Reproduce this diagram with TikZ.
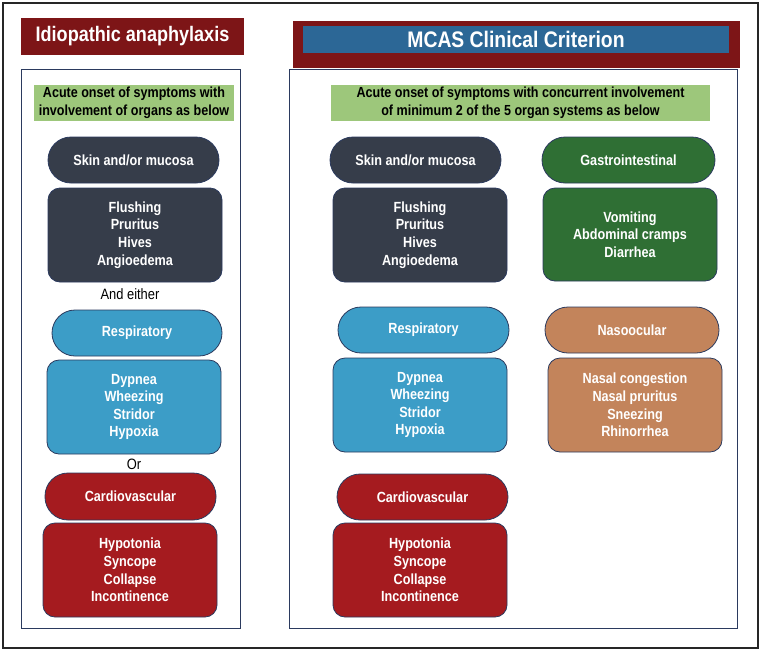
\documentclass[tikz,border=0pt]{standalone}
\usepackage{fontspec}
\setmainfont{Liberation Sans}[FakeStretch=0.86]
\usetikzlibrary{positioning}
\definecolor{darkred}{HTML}{7D1517}
\definecolor{titleblue}{HTML}{2C6796}
\definecolor{slate}{HTML}{363D4A}
\definecolor{resp}{HTML}{3C9DC7}
\definecolor{cardio}{HTML}{A51B1F}
\definecolor{gi}{HTML}{2F6F34}
\definecolor{naso}{HTML}{C3845B}
\definecolor{lightgreen}{HTML}{9DC77B}
\definecolor{edge}{HTML}{2B3A5E}
\tikzset{
  base/.style={draw=edge, line width=0.8pt, text=white, font=\bfseries\fontsize{14.7}{17.6}\selectfont, align=center, inner sep=0pt, minimum width=172pt},
  pill/.style={base, rounded corners=23pt, minimum height=46pt},
  listbox/.style={base, rounded corners=12pt, minimum height=94pt},
  panel/.style={draw=edge, line width=0.8pt},
  greenbox/.style={fill=lightgreen, inner sep=0pt, minimum height=36pt, align=center, font=\bfseries\fontsize{14.6}{17.5}\selectfont},
  plain/.style={font=\fontsize{15}{17}\selectfont}
}
\begin{document}
\begin{tikzpicture}[x=1pt,y=-1pt]
\useasboundingbox (0,0) rectangle (762,651);
\draw[line width=2.2pt, black!85] (3,3) rectangle (758,648);
% left column
\node[fill=darkred, text=white, font=\bfseries\fontsize{21}{25}\selectfont, minimum width=223pt, minimum height=37pt, inner sep=0pt] (tl) at (132.5,36.5) {Idiopathic anaphylaxis};
\draw[panel] (21,69) rectangle (240,628);
\node[greenbox, minimum width=200pt] (gl) at (134,103) {Acute onset of symptoms with\\involvement of organs as below};
\node[pill, fill=slate, minimum width=171pt] (skinL) at (133.5,160) {Skin and/or mucosa};
\node[listbox, fill=slate, minimum width=174pt] (flushL) at (135,235) {Flushing\\Pruritus\\Hives\\Angioedema};
\node[plain] (either) at (130,294) {And either};
\node[pill, fill=resp, minimum width=170pt] (respL) at (137,333) {Respiratory};
\node[listbox, fill=resp, minimum width=174pt] (dypL) at (134,407) {Dypnea\\Wheezing\\Stridor\\Hypoxia};
\node[plain] (or) at (134,464) {Or};
\node[pill, fill=cardio, minimum width=171pt, minimum height=47pt] (cardL) at (130.5,496.5) {Cardiovascular};
\node[listbox, fill=cardio, minimum width=174pt] (hypoL) at (130,570) {Hypotonia\\Syncope\\Collapse\\Incontinence};
% right column
\node[fill=darkred, minimum width=447pt, minimum height=47pt, inner sep=0pt] (tro) at (516.5,44.5) {};
\node[fill=titleblue, text=white, font=\bfseries\fontsize{22.5}{26}\selectfont, minimum width=426pt, minimum height=27pt, inner sep=0pt] (tri) at (516,39.5) {MCAS Clinical Criterion};
\draw[panel] (289,69) rectangle (737,628);
\node[greenbox, minimum width=379pt] (gr) at (520.5,103) {Acute onset of symptoms with concurrent involvement\\of minimum 2 of the 5 organ systems as below};
\node[pill, fill=slate, minimum width=171pt] (skinR) at (415.5,160) {Skin and/or mucosa};
\node[listbox, fill=slate, minimum width=174pt] (flushR) at (420,235) {Flushing\\Pruritus\\Hives\\Angioedema};
\node[pill, fill=gi, minimum width=173pt] (giP) at (628.5,160) {Gastrointestinal};
\node[listbox, fill=gi, minimum width=174pt, minimum height=93pt] (giB) at (630,234.5) {Vomiting\\Abdominal cramps\\Diarrhea};
\node[pill, fill=resp, minimum width=171pt] (respR) at (423.5,330) {Respiratory};
\node[listbox, fill=resp, minimum width=174pt] (dypR) at (420,405) {Dypnea\\Wheezing\\Stridor\\Hypoxia};
\node[pill, fill=naso, minimum width=174pt] (nasoP) at (632,330) {Nasoocular};
\node[listbox, fill=naso, minimum width=174pt] (nasoB) at (635,405) {Nasal congestion\\Nasal pruritus\\Sneezing\\Rhinorrhea};
\node[pill, fill=cardio, minimum width=171pt] (cardR) at (422.5,497) {Cardiovascular};
\node[listbox, fill=cardio, minimum width=174pt] (hypoR) at (420,570) {Hypotonia\\Syncope\\Collapse\\Incontinence};
\end{tikzpicture}
\end{document}
